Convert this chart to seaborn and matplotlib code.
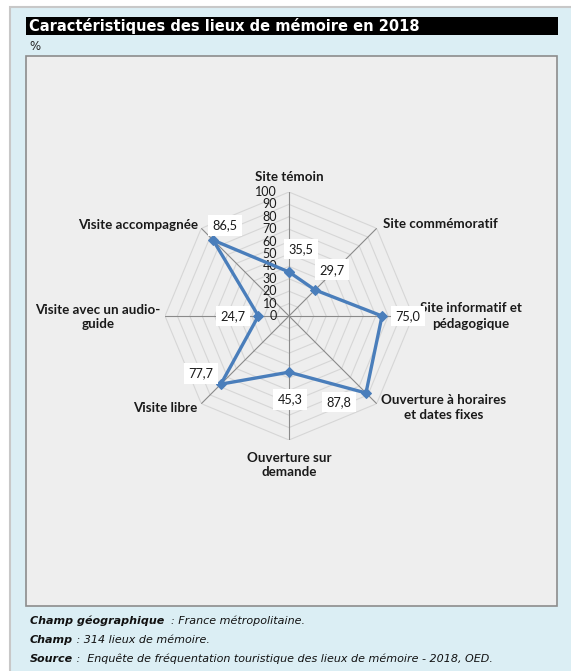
import numpy as np
import matplotlib
matplotlib.use("Agg")
import matplotlib.pyplot as plt
import seaborn as sns
from matplotlib.patches import Rectangle

# Data
categories = ["Site témoin", "Site commémoratif", "Site informatif et\npédagogique",
              "Ouverture à horaires\net dates fixes", "Ouverture sur\ndemande",
              "Visite libre", "Visite avec un audio-\nguide", "Visite accompagnée"]
values = [35.5, 29.7, 75.0, 87.8, 45.3, 77.7, 24.7, 86.5]
value_labels = ["35,5", "29,7", "75,0", "87,8", "45,3", "77,7", "24,7", "86,5"]
radial_ticks = list(range(0, 101, 10))

title = "Caractéristiques des lieux de mémoire en 2018"
unit = "%"
notes = [("Champ géographique", "  : France métropolitaine."),
         ("Champ", " : 314 lieux de mémoire."),
         ("Source", " :  Enquête de fréquentation touristique des lieux de mémoire - 2018, OED.")]

W, H, DPI = 571, 671, 100
PT = 72 / DPI  # pixels -> points

sns.set_theme(style="white")
plt.rcParams["font.family"] = ["DejaVu Sans"]

fig = plt.figure(figsize=(W / DPI, H / DPI), dpi=DPI)
fig.patch.set_facecolor("white")


def rect(x0, y0, x1, y1, **kw):
    """Rectangle given in pixel coordinates measured from the top-left corner."""
    r = Rectangle((x0 / W, 1 - y1 / H), (x1 - x0) / W, (y1 - y0) / H,
                  transform=fig.transFigure, **kw)
    fig.add_artist(r)
    return r


# Background panel, title bar and plot area
rect(10, 7, W + 2, H + 2, facecolor="#DBEEF4", edgecolor="#C8C8C8", lw=1.5, zorder=0)
rect(26, 17, 558, 35, facecolor="black", edgecolor="none", zorder=1)
fig.text(29 / W, 1 - 26.5 / H, title, color="white", fontsize=10.5,
         fontweight="bold", va="center", ha="left", zorder=2)
fig.text(29 / W, 1 - 46 / H, unit, color="#222222", fontsize=8.5, va="center", ha="left")
rect(26, 56, 557, 606, facecolor="#EEEEEE", edgecolor="#8C8C8C", lw=1.2, zorder=1)

# Radar chart on polar axes
cx, cy, R = 289, 316, 124
ax = fig.add_axes([(cx - R) / W, (H - cy - R) / H, 2 * R / W, 2 * R / H],
                  projection="polar", zorder=3)
ax.set_theta_zero_location("N")
ax.set_theta_direction(-1)
ax.set_ylim(0, 100)
ax.axis("off")

n = len(categories)
theta = np.linspace(0, 2 * np.pi, n, endpoint=False)
theta_closed = np.append(theta, 2 * np.pi)

# octagonal grid and spokes
for r in radial_ticks[1:]:
    ax.plot(theta_closed, [r] * (n + 1), color="#D6D6D6", lw=0.8, zorder=1)
for t in theta:
    ax.plot([t, t], [0, 100], color="#8A8A8A", lw=0.8, zorder=2)

# radial tick labels along the top spoke
for r in radial_ticks:
    ax.annotate(str(r), xy=(0, r), xytext=(-12 * PT, 0), textcoords="offset points",
                ha="right", va="center", fontsize=9, family="Lato",
                color="#1a1a1a", annotation_clip=False)

# series
sns.lineplot(x=theta_closed, y=values + values[:1], ax=ax, sort=False, estimator=None,
             color="#4A7EBB", lw=2.4, marker="D", markersize=5.5,
             markeredgecolor="#4A7EBB", zorder=5)
ax.axis("off")

# value labels (pixel offsets from the point)
val_offsets = [(12, -23), (17, -20), (26, 0), (-27, 9), (1, 27), (-20, -11), (-25, 0), (12, -15)]
for t, v, lab, (dx, dy) in zip(theta, values, value_labels, val_offsets):
    ax.annotate(lab, xy=(t, v), xytext=(dx * PT, -dy * PT), textcoords="offset points",
                ha="center", va="center", fontsize=9.2, family="Lato", color="#1a1a1a",
                bbox=dict(boxstyle="square,pad=0.35", fc="white", ec="none"),
                zorder=6, annotation_clip=False)

# category labels (pixel offsets from the end of each spoke)
cat_pos = [((0, -15), "center"), ((6, -4), "left"), ((58, 0), "center"),
           ((67, 4), "center"), ((0, 25), "center"), ((-4, 4), "right"),
           ((-67, 1), "center"), ((-3, -3), "right")]
for t, lab, ((dx, dy), ha) in zip(theta, categories, cat_pos):
    ax.annotate(lab, xy=(t, 100), xytext=(dx * PT, -dy * PT), textcoords="offset points",
                ha=ha, va="center", multialignment="center", fontsize=9.6,
                fontweight="bold", family="Lato", color="#1a1a1a",
                linespacing=1.3, annotation_clip=False)

# footnotes: bold label followed by the italic text
ov = fig.add_axes([0, 0, 1, 1], zorder=4)
ov.set_axis_off()
ov.set_xlim(0, W)
ov.set_ylim(H, 0)
for y, (head, body) in zip([621, 640, 659], notes):
    t1 = ov.text(30, y, head, fontsize=8, fontweight="bold", style="italic",
                 ha="left", va="center", color="#111111")
    ov.annotate(body, xy=(1, 0), xycoords=t1, ha="left", va="bottom",
                fontsize=8, style="italic", color="#111111")

fig.savefig("out.png", dpi=DPI, facecolor=fig.get_facecolor())
